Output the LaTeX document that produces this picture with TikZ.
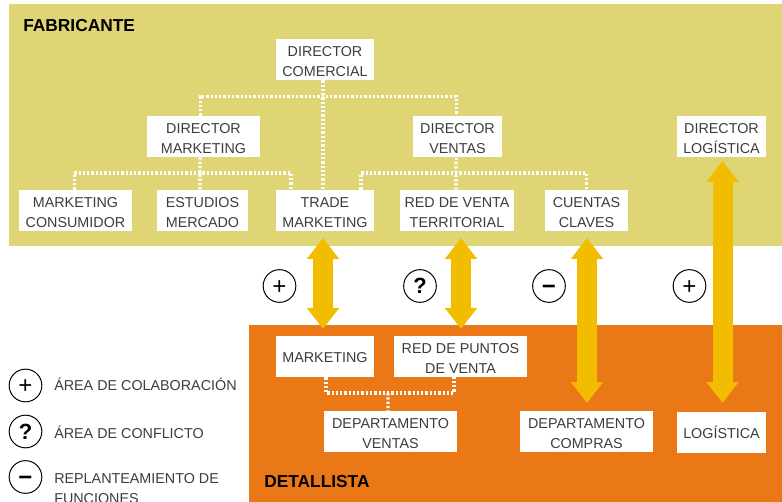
\documentclass[tikz,border=0pt]{standalone}
\usepackage{fontspec}
\setmainfont{Liberation Sans}
\usetikzlibrary{arrows.meta}
\definecolor{fabcol}{HTML}{E0D574}
\definecolor{detcol}{HTML}{EA7817}
\definecolor{flechacol}{HTML}{F2BC00}
\definecolor{textocol}{HTML}{3C3C3C}
\tikzset{
  puesto/.style={fill=white,text=textocol,align=center,minimum height=30.75pt,inner sep=0pt,
    font=\fontsize{10.75}{15}\selectfont,text height=24.8pt,text depth=0pt},
  puestouno/.style={puesto,text height=9.4pt},
  ancho/.style={minimum width=#1*0.75pt},
  enlace/.style={draw=white,line width=2.3pt,dash pattern=on 1.7pt off 1.5pt},
  flecha/.style={draw=flechacol,line width=15pt,{Triangle[length=15.75pt,width=23.25pt]}-{Triangle[length=15.75pt,width=23.25pt]}},
  signo/.style={draw=black,circle,line width=0.75pt,minimum size=24.5pt,inner sep=0pt,
    font=\fontsize{16.5}{16.5}\selectfont\bfseries,text height=12pt,text depth=0pt},
  signomas/.style={signo,font=\fontsize{18}{18}\selectfont,text height=12.4pt},
  signomenos/.style={signo,font=\fontsize{18}{18}\selectfont\bfseries,text height=12.4pt},
  leyenda/.style={anchor=west,text=textocol,align=left,inner sep=0pt,
    font=\fontsize{10.75}{15}\selectfont},
  grupo/.style={anchor=west,text=black,inner sep=0pt,font=\fontsize{13}{13}\selectfont\bfseries}
}
\begin{document}
\begin{tikzpicture}[x=0.75pt,y=-0.75pt]
\useasboundingbox (0,0) rectangle (782,502);
\fill[fabcol] (9,4) rectangle (782,246);
\fill[detcol] (249,325) rectangle (782,502);

\node[grupo] (fabricante) at (23,26) {FABRICANTE};
\node[grupo] (detallista) at (264,482) {DETALLISTA};

% fabricante
\node[puesto,ancho=98]  (comercial)  at (325,59.5)   {DIRECTOR\\COMERCIAL};
\node[puesto,ancho=113] (dirmkt)     at (203.5,136.5) {DIRECTOR\\MARKETING};
\node[puesto,ancho=89]  (dirvta)     at (457.5,137)  {DIRECTOR\\VENTAS};
\node[puesto,ancho=89]  (dirlog)     at (721.5,137)  {DIRECTOR\\LOGÍSTICA};
\node[puesto,ancho=113] (consumidor) at (75.5,210.5) {MARKETING\\CONSUMIDOR};
\node[puesto,ancho=91]  (estudios)   at (202.5,210.5) {ESTUDIOS\\MERCADO};
\node[puesto,ancho=98]  (trade)      at (325,210.5)  {TRADE\\MARKETING};
\node[puesto,ancho=114] (redventa)   at (457,210.5)  {RED DE VENTA\\TERRITORIAL};
\node[puesto,ancho=83]  (cuentas)    at (586.5,210.5) {CUENTAS\\CLAVES};

% detallista
\node[puestouno,ancho=98] (marketing) at (325,356.5) {MARKETING};
\node[puesto,ancho=133] (redpuntos)  at (460.5,356.5) {RED DE PUNTOS\\DE VENTA};
\node[puesto,ancho=133] (depventas)  at (390.5,431.5) {DEPARTAMENTO\\VENTAS};
\node[puesto,ancho=133] (depcompras) at (586.5,431.5) {DEPARTAMENTO\\COMPRAS};
\node[puestouno,ancho=89] (logistica) at (721.5,432.5) {LOGÍSTICA};

\coordinate (ramacom) at (323,96.5);
\coordinate (ramamkt) at (200,173);
\coordinate (ramavta) at (456,173);
\coordinate (ramadet) at (388,393);

\draw[enlace] ([xshift=-1.5pt]comercial.south) -- ([xshift=-1.5pt]trade.north);
\draw[enlace] ([xshift=-2.6pt]dirmkt.north) |- (ramacom) -| ([xshift=-1.1pt]dirvta.north);
\draw[enlace] ([xshift=-2.6pt]dirmkt.south) -- ([xshift=-1.9pt]estudios.north);
\draw[enlace] ([xshift=-1.1pt]consumidor.north) |- (ramamkt) -| ([xshift=-25.5pt]trade.north);
\draw[enlace] ([xshift=-1.1pt]dirvta.south) -- ([xshift=-0.75pt]redventa.north);
\draw[enlace] ([xshift=27pt]trade.north) |- (ramavta) -| (cuentas.north);
\draw[enlace] ([xshift=0.75pt]marketing.south) |- (ramadet) -| ([xshift=-4.9pt]redpuntos.south);
\draw[enlace] (ramadet) -- ([xshift=-1.9pt]depventas.north);

% flechas
\coordinate (fa1) at (323,238);
\coordinate (fb1) at (323,329);
\coordinate (fa2) at (461,238);
\coordinate (fb2) at (461,329);
\coordinate (fa3) at (587,238);
\coordinate (fb3) at (587,403);
\coordinate (fa4) at (722.5,161);
\coordinate (fb4) at (722.5,403);
\draw[flecha] (fa1) -- (fb1);
\draw[flecha] (fa2) -- (fb2);
\draw[flecha] (fa3) -- (fb3);
\draw[flecha] (fa4) -- (fb4);

\node[signomas]   (mas1)   at (279.5,286) {+};
\node[signo]      (duda1)  at (420,286)   {?};
\node[signomenos] (menos1) at (549,286)   {−};
\node[signomas]   (mas2)   at (689.5,286) {+};

% leyenda
\node[signomas]   (masley)   at (25.5,385.5) {+};
\node[signo]      (dudaley)  at (25.5,431.5) {?};
\node[signomenos] (menosley) at (25.5,477)   {−};
\node[leyenda] (txtmas)   at (54,384) {ÁREA DE COLABORACIÓN};
\node[leyenda] (txtduda)  at (54,432) {ÁREA DE CONFLICTO};
\node[leyenda] (txtmenos) at (54,489) {REPLANTEAMIENTO DE\\FUNCIONES};
\end{tikzpicture}
\end{document}
